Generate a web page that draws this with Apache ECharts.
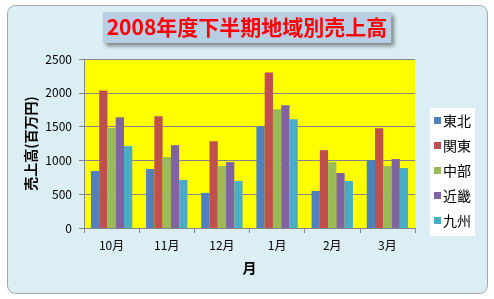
<!DOCTYPE html>
<html><head><meta charset="utf-8">
<script src="https://cdn.jsdelivr.net/npm/echarts@6/dist/echarts.min.js"></script>
<style>html,body{margin:0;padding:0;background:#fff;}#c{width:494px;height:299px;}</style>
</head><body><div id="c"></div>
<script>
const categories = ['10月','11月','12月','1月','2月','3月'];
const seriesNames = ['東北','関東','中部','近畿','九州'];
const tohoku = [843, 873, 520, 1500, 549, 1000];
const kanto  = [2034, 1652, 1284, 2299, 1152, 1475];
const chubu  = [1480, 1049, 917, 1755, 975, 917];
const kinki  = [1637, 1225, 975, 1814, 814, 1020];
const kyushu = [1211, 711, 696, 1608, 696, 887];
const yTicks = [0, 500, 1000, 1500, 2000, 2500];

const colors = ['#4f81bd','#c0504d','#9bbb59','#8064a2','#4bacc6'];
const values = [tohoku, kanto, chubu, kinki, kyushu];
const FONT = '"Noto Sans CJK JP", sans-serif';
const chart = echarts.init(document.getElementById('c'), null, {renderer:'canvas'});
chart.setOption({
  animation:false,
  textStyle:{fontFamily:FONT},
  graphic:[
    {type:'rect', z:-10, shape:{x:7.5,y:5.5,width:480,height:288,r:8}, style:{fill:'#dbeef4', stroke:'#a6a6a6', lineWidth:1}}
  ],
  title:{
    text:'2008年度下半期地域別売上高', left:'center', top:12,
    backgroundColor:'#b9cde5', padding:[4,4,4,4],
    shadowBlur:4, shadowColor:'rgba(0,0,0,0.45)', shadowOffsetX:3, shadowOffsetY:3,
    textStyle:{color:'#ff0000', fontSize:21, fontWeight:'bold', fontFamily:FONT, lineHeight:23}
  },
  legend:{
    orient:'vertical', left:430, top:108, width:49, height:120,
    backgroundColor:'#ffffff', padding:[5,4,8,4], itemGap:10,
    itemWidth:7, itemHeight:7, icon:'rect',
    textStyle:{fontSize:14, color:'#000', fontFamily:FONT, padding:[0,0,0,-3], lineHeight:15},
    data:seriesNames
  },
  grid:{left:84, right:79, top:59, bottom:71, show:true, backgroundColor:'#ffff00', borderWidth:0},
  xAxis:{
    type:'category', data:categories,
    name:'月', nameLocation:'middle', nameGap:33,
    nameTextStyle:{fontSize:14, fontWeight:'bold', color:'#000'},
    axisLine:{lineStyle:{color:'#868686'}},
    axisTick:{show:true, length:5, lineStyle:{color:'#868686'}},
    axisLabel:{fontSize:12, color:'#000', margin:11}
  },
  yAxis:{
    type:'value', min:yTicks[0], max:yTicks[yTicks.length-1], interval:500,
    name:'売上高(百万円)', nameLocation:'middle', nameRotate:90, nameGap:46,
    nameMoveOverlap:false,
    nameTextStyle:{fontSize:14, fontWeight:'bold', color:'#000'},
    axisLine:{show:true, lineStyle:{color:'#868686'}},
    axisTick:{show:true, length:5, lineStyle:{color:'#868686'}},
    axisLabel:{fontSize:12, color:'#000', margin:12, formatter:(v)=>String(v)},
    splitLine:{lineStyle:{color:'#868686', width:1}}
  },
  series: seriesNames.map((n,i)=>({
    name:n, type:'bar', data:values[i], barGap:'0%', barCategoryGap:'25%',
    itemStyle:{color:colors[i]}
  }))
});
</script></body></html>
